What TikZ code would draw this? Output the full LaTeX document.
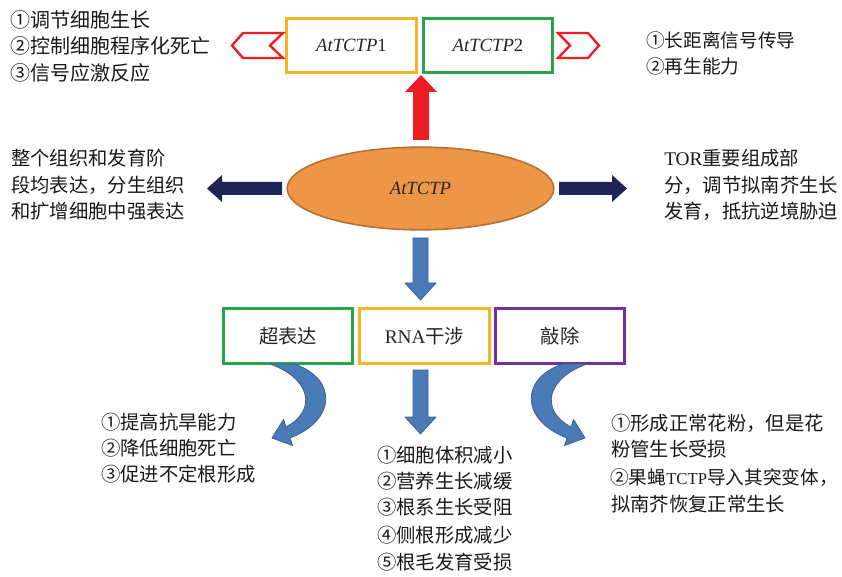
\documentclass[tikz,border=0pt]{standalone}
\usepackage{fontspec}
\setmainfont{Liberation Serif}
\newfontfamily\cjkfont{Noto Sans CJK SC}
\newcommand{\zh}[1]{{\cjkfont #1}}
\usetikzlibrary{shapes.geometric}
\definecolor{boxyellow}{RGB}{245,180,40}
\definecolor{boxgreen}{RGB}{40,165,75}
\definecolor{boxpurple}{RGB}{112,48,160}
\definecolor{myred}{RGB}{236,30,36}
\definecolor{ellfill}{RGB}{238,150,72}
\definecolor{elledge}{RGB}{182,112,52}
\definecolor{navy}{RGB}{30,36,88}
\definecolor{arrowblue}{RGB}{74,123,183}
\definecolor{arrowblueedge}{RGB}{56,96,148}
\begin{document}
\begin{tikzpicture}[x=0.75pt,y=-0.75pt,
  box/.style={draw, line width=2.2pt, fill=white, minimum width=97pt, minimum height=41pt, inner sep=0pt, font=\fontsize{14}{16}\selectfont, text=black!85},
  txt/.style={anchor=base west, inner sep=0pt, font=\fontsize{14.5}{17}\selectfont, text=black!90},
  txtbig/.style={txt, font=\fontsize{15}{18}\selectfont},
  txtsmall/.style={txt, font=\fontsize{14}{17}\selectfont},
  chev/.style={draw=myred, line width=1.8pt, fill=white, line join=miter},
  redarrow/.style={fill=myred},
  navyarrow/.style={fill=navy},
  bluearrow/.style={fill=arrowblue, draw=arrowblueedge, line width=0.6pt, line join=round}]
\path[use as bounding box] (0,0) rectangle (842,577);

% top boxes
\node[box, draw=boxyellow] (p1) at (351.5,45.5) {\textit{AtTCTP}1};
\node[box, draw=boxgreen] (p2) at (488,45.5) {\textit{AtTCTP}2};

% chevrons
\path[chev] (232,45.5) -- (243,33) -- (283,33) -- (270,45.5) -- (283,58) -- (243,58) -- cycle;
\path[chev] (558,33) -- (588,33) -- (599,45.5) -- (588,58) -- (558,58) -- (570,45.5) -- cycle;

% ellipse
\node[ellipse, draw=elledge, line width=1.2pt, fill=ellfill, minimum width=200pt, minimum height=62pt, inner sep=0pt, font=\fontsize{14}{16}\selectfont, text=black!85] (e) at (420.5,188.5) {\textit{AtTCTP}};

% red up arrow
\path[redarrow] (413,140) -- (413,92) -- (405,92) -- (421,75) -- (437,92) -- (429,92) -- (429,140) -- cycle;

% navy arrows
\path[navyarrow] (282,182) -- (222,182) -- (222,175) -- (207,188.5) -- (222,202) -- (222,195) -- (282,195) -- cycle;
\path[navyarrow] (559,182) -- (612,182) -- (612,175) -- (627,188.5) -- (612,202) -- (612,195) -- (559,195) -- cycle;

% blue down arrow from ellipse
\path[bluearrow] (413,238) -- (428,238) -- (428,283) -- (436,283) -- (420.5,300) -- (405,283) -- (413,283) -- cycle;

% bottom boxes
\node[box, draw=boxgreen, font=\fontsize{14.5}{17}\selectfont] (b1) at (288,336) {\zh{超表达}};
\node[box, draw=boxyellow, font=\fontsize{14.5}{17}\selectfont] (b2) at (424.5,336) {RNA\zh{干涉}};
\node[box, draw=boxpurple, font=\fontsize{14.5}{17}\selectfont] (b3) at (560,336) {\zh{敲除}};

% middle down arrow
\path[bluearrow] (413,370) -- (428,370) -- (428,417) -- (436,417) -- (420.5,434) -- (405,417) -- (413,417) -- cycle;

% curved arrows
\path[bluearrow] (270,364) -- (294,364) .. controls (337,378) and (337,420) .. (290,438) -- (292.5,445.5) -- (272,438) -- (283.5,419.5) -- (286,427) .. controls (318,410) and (310,378) .. (270,364) -- cycle;
\begin{scope}[shift={(857,0)}, xscale=-1]
\path[bluearrow] (270,364) -- (294,364) .. controls (337,378) and (337,420) .. (290,438) -- (292.5,445.5) -- (272,438) -- (283.5,419.5) -- (286,427) .. controls (318,410) and (310,378) .. (270,364) -- cycle;
\end{scope}

% top-left text
\node[txtbig] (tl1) at (10,27.1) {\zh{①调节细胞生长}};
\node[txtbig] (tl2) at (10,53.6) {\zh{②控制细胞程序化死亡}};
\node[txtbig] (tl3) at (10,80.1) {\zh{③信号应激反应}};

% top-right text
\node[txtsmall] (tr1) at (646,47.1) {\zh{①长距离信号传导}};
\node[txtsmall] (tr2) at (646,73.6) {\zh{②再生能力}};

% middle-left text
\node[txt] (ml1) at (11,165.5) {\zh{整个组织和发育阶}};
\node[txt] (ml2) at (11,192.4) {\zh{段均表达，分生组织}};
\node[txt] (ml3) at (11,219) {\zh{和扩增细胞中强表达}};

% middle-right text
\node[txt] (mr1) at (664,165.5) {TOR\zh{重要组成部}};
\node[txt] (mr2) at (664,192.4) {\zh{分，调节拟南芥生长}};
\node[txt] (mr3) at (664,219) {\zh{发育，抵抗逆境胁迫}};

% bottom-left text
\node[txt] (bl1) at (101,429.4) {\zh{①提高抗旱能力}};
\node[txt] (bl2) at (101,455.4) {\zh{②降低细胞死亡}};
\node[txt] (bl3) at (101,481.4) {\zh{③促进不定根形成}};

% bottom-middle text
\node[txt] (bm1) at (377,462.4) {\zh{①细胞体积减小}};
\node[txt] (bm2) at (377,488.4) {\zh{②营养生长减缓}};
\node[txt] (bm3) at (377,514.9) {\zh{③根系生长受阻}};
\node[txt] (bm4) at (377,542.4) {\zh{④侧根形成减少}};
\node[txt] (bm5) at (377,569.4) {\zh{⑤根毛发育受损}};

% bottom-right text
\node[txt] (br1) at (611,430.4) {\zh{①形成正常花粉，但是花}};
\node[txt] (br2) at (611,456.4) {\zh{粉管生长受损}};
\node[txt, font=\fontsize{14}{17}\selectfont] (br3) at (610,484.4) {\zh{②果蝇}{\fontsize{12.5}{17}\selectfont TCTP}\zh{导入其突变体，}};
\node[txt] (br4) at (611,511.4) {\zh{拟南芥恢复正常生长}};
\end{tikzpicture}
\end{document}
